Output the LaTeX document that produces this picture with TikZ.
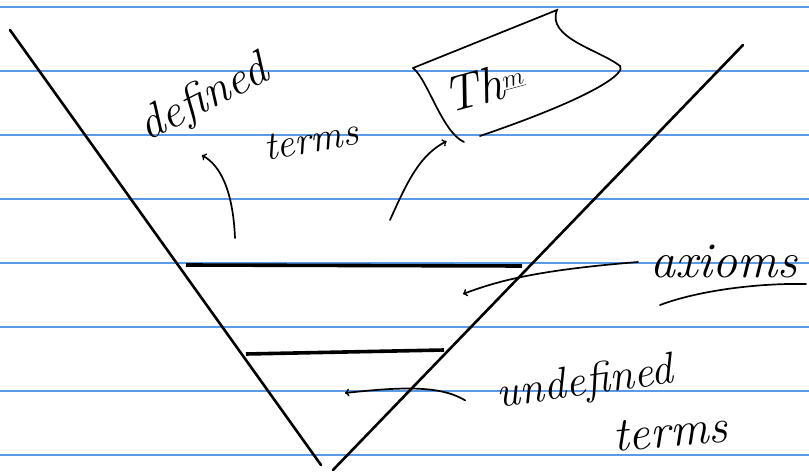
\documentclass[tikz,border=0pt]{standalone}
\usetikzlibrary{positioning,arrows}
\definecolor{ruleblue}{RGB}{90,155,230}
\tikzset{
  hand/.style={font=\fontsize{44}{44}\selectfont\itshape, inner sep=0pt},
  pen/.style={line width=1.7pt, line cap=round},
  side/.style={line width=2.6pt, line cap=round},
  bar/.style={line width=3.6pt},
}

\begin{document}
\begin{tikzpicture}[x=1pt, y=-1pt]
  \useasboundingbox (0,0) rectangle (809,473);
  % ruled paper
  \foreach \y in {7,71,...,455}
    \draw[ruleblue, line width=1.2pt] (0,\y) -- (809,\y);

  % the V with its two layers
  \draw[side] (10,30) -- (321,465);
  \draw[side] (743,45) -- (333,470);
  \draw[bar] (186,265) -- (522,266);
  \draw[bar] (246,354) -- (444,350);

  % labels
  \node[hand, rotate=27, font=\fontsize{47}{47}\selectfont\itshape] (defd) at (204,100) {defined};
  \node[hand, rotate=10, font=\fontsize{40}{40}\selectfont\itshape] (defterms) at (311,140) {terms};
  \node[hand, rotate=15, font=\fontsize{50}{50}\selectfont\itshape] (thm) at (484,86) {Th$^{\underline{m}}$};
  \node[hand, font=\fontsize{50}{50}\selectfont\itshape] (axioms) at (724,262) {axioms};
  \node[hand, rotate=8] (undef) at (585,384) {undefined};
  \node[hand, rotate=5, font=\fontsize{48}{48}\selectfont\itshape] (undterms) at (670,432) {terms};

  % flag round the theorem
  \draw[pen] (413,68) -- (557,10)
    .. controls (546,38) and (600,50) .. (620,66)
    .. controls (626,72) and (600,95) .. (480,136);
  \draw[pen] (413,68) .. controls (428,80) and (442,132) .. (464,142);

  \coordinate (dstart) at (235,238);
  \coordinate (tstart) at (390,220);
  \coordinate (axband) at (463,294);
  \coordinate (undband) at (345,393);

  % arrows
  \draw[pen, ->] (dstart) .. controls (233,190) and (220,165) .. ([xshift=-12pt, yshift=-36pt]defd.south);
  \draw[pen, ->] (tstart) .. controls (408,180) and (420,155) .. ([xshift=-42pt, yshift=-38pt]thm.south);
  \draw[pen, ->] ([xshift=-12pt]axioms.west) .. controls (540,270) and (500,280) .. (axband);
  \draw[pen, ->] ([xshift=-32pt, yshift=-4pt]undef.west) .. controls (440,385) and (400,387) .. (undband);

  % underline of axioms
  \draw[pen] (660,305) .. controls (700,290) and (760,283) .. (806,284);
\end{tikzpicture}
\end{document}
